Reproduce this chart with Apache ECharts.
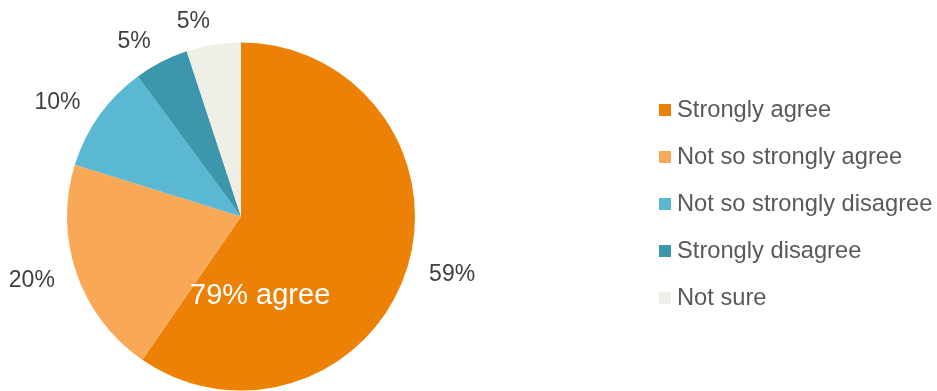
<!DOCTYPE html>
<html>
<head>
<meta charset="utf-8">
<script src="https://cdn.jsdelivr.net/npm/echarts@6/dist/echarts.min.js"></script>
<style>
  html, body { margin: 0; padding: 0; background: #fff; }
  #chart { width: 937px; height: 391px; }
</style>
</head>
<body>
<div id="chart"></div>
<script>
// Survey response shares (percent), drawn clockwise from 12 o'clock
const categories = ['Strongly agree', 'Not so strongly agree', 'Not so strongly disagree', 'Strongly disagree', 'Not sure'];
const values = [59, 20, 10, 5, 5];
const colors = ['#EC8105', '#F9A857', '#5BB8D2', '#3C97AD', '#EFEFE7'];

const agreeTotal = values[0] + values[1];
const fontFamily = 'Liberation Sans, Arial, sans-serif';

const pieData = categories.map((name, i) => ({
  name: name,
  value: values[i],
  itemStyle: { color: colors[i] }
}));

const chart = echarts.init(document.getElementById('chart'), null, { renderer: 'canvas' });

chart.setOption({
  animation: false,
  textStyle: { fontFamily: fontFamily },
  legend: {
    orient: 'vertical',
    left: 659,
    top: 98,
    padding: 0,
    icon: 'rect',
    itemWidth: 12,
    itemHeight: 12,
    itemGap: 23,
    data: categories,
    selectedMode: false,
    textStyle: {
      fontFamily: fontFamily,
      fontSize: 23.7,
      color: '#595959',
      lineHeight: 24,
      padding: [0, 0, 0, 1]
    }
  },
  series: [
    {
      type: 'pie',
      center: [241, 216.5],
      radius: [0, 174],
      startAngle: 90,
      clockwise: true,
      silent: true,
      avoidLabelOverlap: false,
      label: {
        show: true,
        position: 'outside',
        distanceToLabelLine: 0,
        padding: [6, 0, 0, 0],
        formatter: '{c}%',
        fontFamily: fontFamily,
        fontSize: 23,
        color: '#404040'
      },
      // percentage labels sit just past the rim, with no leader lines drawn
      labelLine: { show: false, length: 23, length2: 0 },
      data: pieData
    }
  ],
  graphic: [
    {
      type: 'text',
      left: 190,
      top: 281,
      z: 100,
      silent: true,
      style: {
        text: agreeTotal + '% agree',
        fontFamily: fontFamily,
        fontSize: 29,
        fill: '#ffffff'
      }
    }
  ]
});
</script>
</body>
</html>
